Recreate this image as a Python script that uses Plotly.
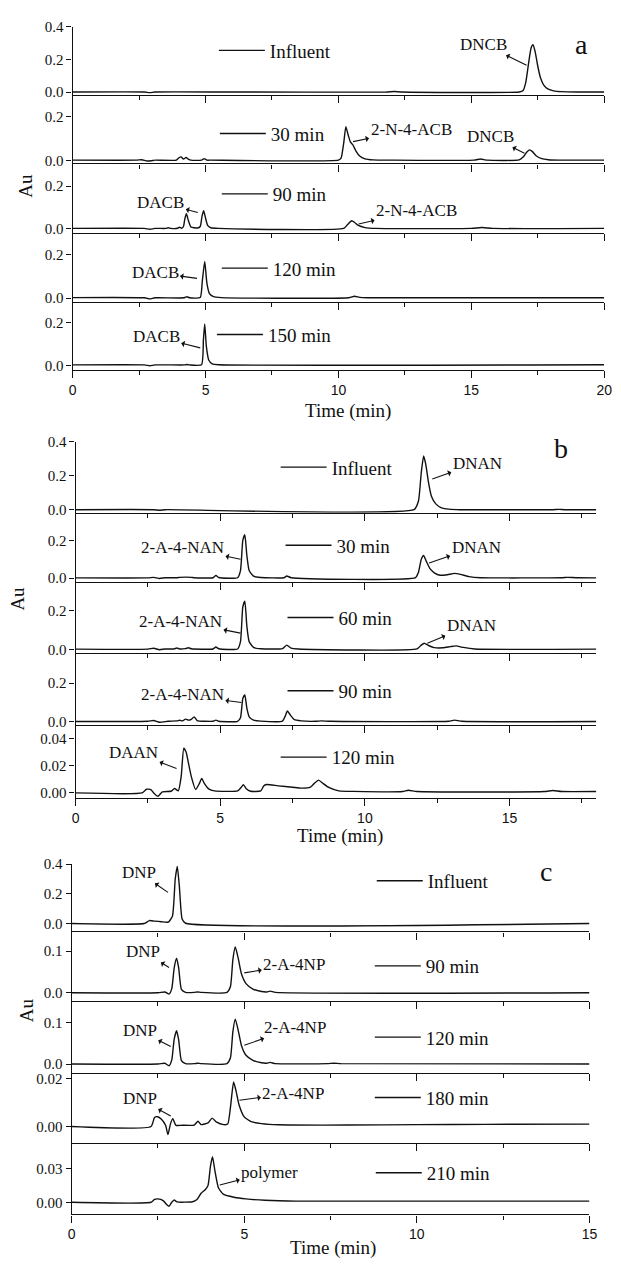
import plotly.graph_objects as go

# ---------------- data (time in min, absorbance in Au) ----------------
# Panel a
a_influent_t = [0, 2.7, 2.9, 3.1, 6, 11.8, 12.1, 12.4, 16.8, 16.95, 17.05, 17.15, 17.25, 17.32, 17.4, 17.5, 17.6, 17.72, 17.88, 18.1, 18.4, 19, 20]
a_influent_y = [0.001, 0.001, -0.003, 0.001, 0.001, 0.001, 0.004, 0.001, 0.001, 0.01, 0.06, 0.17, 0.27, 0.29, 0.25, 0.16, 0.09, 0.045, 0.02, 0.008, 0.003, 0.001, 0.001]
a_30_t = [0, 2.4, 2.6, 2.8, 2.95, 3.1, 3.9, 4.0, 4.08, 4.17, 4.27, 4.35, 4.45, 4.85, 4.95, 5.05, 5.2, 10.0, 10.1, 10.2, 10.28, 10.36, 10.45, 10.55, 10.65, 10.8, 11.0, 11.3, 12, 15.1, 15.35, 15.6, 16.8, 16.95, 17.1, 17.2, 17.3, 17.45, 17.65, 17.9, 18.3, 20]
a_30_y = [0.001, 0.001, 0.003, -0.003, -0.002, 0.001, 0.001, 0.012, 0.016, 0.006, 0.013, 0.006, 0.001, 0.001, 0.008, 0.001, 0.001, 0.001, 0.01, 0.08, 0.155, 0.12, 0.085, 0.07, 0.045, 0.02, 0.007, 0.002, 0.001, 0.001, 0.006, 0.001, 0.002, 0.015, 0.04, 0.048, 0.04, 0.02, 0.008, 0.003, 0.001, 0.001]
a_90_t = [0, 2.7, 2.9, 3.1, 3.5, 3.6, 3.7, 3.95, 4.02, 4.1, 4.17, 4.22, 4.28, 4.35, 4.45, 4.7, 4.8, 4.87, 4.93, 5.0, 5.08, 5.2, 5.5, 10.2, 10.35, 10.5, 10.6, 10.75, 11.0, 11.4, 15.0, 15.4, 15.8, 20]
a_90_y = [0.001, 0.001, -0.003, 0.001, 0.001, 0.004, 0.001, 0.002, 0.007, 0.002, 0.01, 0.045, 0.07, 0.04, 0.008, 0.003, 0.01, 0.06, 0.084, 0.05, 0.015, 0.004, 0.001, 0.001, 0.02, 0.037, 0.03, 0.015, 0.005, 0.001, 0.001, 0.005, 0.001, 0.001]
a_120_t = [0, 2.7, 2.9, 3.1, 4.2, 4.3, 4.4, 4.8, 4.88, 4.97, 5.05, 5.15, 5.3, 5.6, 10.4, 10.6, 10.8, 11.1, 20]
a_120_y = [0.002, 0.001, -0.004, 0.001, 0.001, 0.006, 0.001, 0.002, 0.08, 0.168, 0.07, 0.02, 0.006, 0.002, 0.001, 0.008, 0.003, 0.001, 0.001]
a_150_t = [0, 2.7, 2.9, 3.1, 4.2, 4.3, 4.4, 4.85, 4.92, 4.97, 5.03, 5.12, 5.25, 5.5, 20]
a_150_y = [0.002, 0.002, -0.002, 0.002, 0.002, 0.004, 0.002, 0.003, 0.12, 0.195, 0.09, 0.025, 0.007, 0.003, 0.003]

# Panel b
b_influent_t = [0, 2.7, 2.9, 3.1, 11.7, 11.85, 11.95, 12.03, 12.1, 12.2, 12.3, 12.45, 12.65, 12.9, 13.3, 16.5, 16.7, 16.9, 18]
b_influent_y = [0.001, 0.001, -0.002, 0.001, 0.001, 0.05, 0.22, 0.315, 0.27, 0.16, 0.08, 0.035, 0.012, 0.004, 0.001, 0.001, 0.003, 0.001, 0.001]
b_30_t = [0, 2.5, 2.7, 2.9, 3.1, 3.5, 3.6, 4.0, 4.1, 4.75, 4.85, 4.95, 5.6, 5.7, 5.78, 5.85, 5.92, 6.0, 6.15, 6.4, 7.2, 7.3, 7.45, 11.75, 11.85, 11.95, 12.03, 12.12, 12.25, 12.4, 12.6, 12.85, 13.1, 13.3, 13.6, 14.0, 16.8, 17.0, 17.3, 18]
b_30_y = [0.001, 0.001, 0.004, -0.002, 0.002, 0.002, 0.004, 0.004, 0.002, 0.002, 0.014, 0.003, 0.002, 0.04, 0.2, 0.23, 0.12, 0.04, 0.01, 0.003, 0.002, 0.011, 0.002, 0.002, 0.03, 0.1, 0.12, 0.09, 0.05, 0.028, 0.015, 0.018, 0.025, 0.02, 0.008, 0.002, 0.002, 0.004, 0.002, 0.001]
b_60_t = [0, 2.5, 2.7, 2.9, 3.1, 3.4, 3.5, 3.6, 3.8, 3.9, 4.0, 4.75, 4.85, 4.95, 5.6, 5.7, 5.78, 5.85, 5.92, 6.0, 6.15, 6.4, 7.15, 7.3, 7.45, 7.7, 11.8, 11.95, 12.05, 12.2, 12.4, 12.7, 12.95, 13.15, 13.4, 13.8, 18]
b_60_y = [0.001, 0.001, 0.006, -0.002, 0.002, 0.002, 0.007, 0.002, 0.004, 0.008, 0.003, 0.002, 0.012, 0.003, 0.002, 0.04, 0.22, 0.25, 0.12, 0.04, 0.01, 0.003, 0.004, 0.022, 0.006, 0.002, 0.002, 0.022, 0.032, 0.02, 0.009, 0.008, 0.014, 0.018, 0.01, 0.002, 0.001]
b_90_t = [0, 2.5, 2.7, 2.9, 3.2, 3.5, 3.6, 3.7, 3.8, 3.9, 4.0, 4.1, 4.2, 4.75, 4.85, 4.95, 5.6, 5.7, 5.78, 5.85, 5.92, 6.0, 6.15, 6.4, 7.15, 7.25, 7.32, 7.42, 7.55, 7.8, 8.3, 8.5, 8.8, 12.9, 13.1, 13.35, 18]
b_90_y = [0.001, 0.002, 0.006, -0.003, 0.002, 0.004, 0.007, 0.004, 0.013, 0.008, 0.012, 0.025, 0.006, 0.002, 0.008, 0.002, 0.002, 0.02, 0.12, 0.138, 0.07, 0.025, 0.008, 0.003, 0.003, 0.03, 0.055, 0.035, 0.012, 0.004, 0.002, 0.004, 0.002, 0.002, 0.008, 0.002, 0.001]
b_120_t = [0, 2.3, 2.45, 2.6, 2.7, 2.85, 3.0, 3.3, 3.42, 3.55, 3.65, 3.74, 3.82, 3.9, 4.0, 4.15, 4.28, 4.36, 4.45, 4.6, 4.8, 5.6, 5.72, 5.8, 5.9, 6.05, 6.4, 6.5, 6.6, 7.0, 7.5, 7.8, 8.1, 8.25, 8.4, 8.55, 8.75, 9.1, 9.6, 11.3, 11.5, 11.8, 16.2, 16.5, 16.8, 18]
b_120_y = [0.0, 0.0, 0.0027, 0.0025, 0.0, -0.0025, 0.0008, 0.0012, 0.0032, 0.0015, 0.012, 0.0328, 0.03, 0.022, 0.012, 0.0025, 0.007, 0.0106, 0.007, 0.003, 0.0015, 0.0015, 0.004, 0.006, 0.003, 0.0012, 0.0015, 0.005, 0.0062, 0.0052, 0.0042, 0.0035, 0.004, 0.007, 0.0094, 0.007, 0.004, 0.0015, 0.0011, 0.001, 0.002, 0.001, 0.001, 0.0018, 0.001, 0.001]

# Panel c
c_influent_t = [0, 2.1, 2.25, 2.4, 2.6, 2.8, 2.92, 3.0, 3.06, 3.12, 3.2, 3.3, 15]
c_influent_y = [0.0, 0.0, 0.02, 0.016, 0.012, 0.01, 0.05, 0.3, 0.385, 0.25, 0.03, 0.002, 0.0]
c_90_t = [0, 2.5, 2.7, 2.82, 2.9, 2.97, 3.04, 3.1, 3.18, 3.3, 3.55, 3.65, 3.75, 4.5, 4.6, 4.67, 4.74, 4.82, 4.92, 5.05, 5.25, 5.5, 5.65, 5.75, 5.9, 15]
c_90_y = [0.0, 0.0, 0.002, -0.003, 0.01, 0.06, 0.083, 0.06, 0.008, 0.001, 0.001, 0.002, 0.001, 0.001, 0.015, 0.08, 0.11, 0.085, 0.045, 0.022, 0.009, 0.003, 0.002, 0.004, 0.001, 0.0]
c_120_t = [0, 2.5, 2.7, 2.82, 2.9, 2.97, 3.04, 3.1, 3.18, 3.3, 3.55, 3.65, 3.75, 4.5, 4.6, 4.67, 4.74, 4.82, 4.92, 5.05, 5.25, 5.5, 5.65, 5.75, 5.9, 7.4, 7.6, 7.8, 15]
c_120_y = [0.0, 0.0, 0.002, -0.004, 0.01, 0.06, 0.08, 0.058, 0.008, 0.001, 0.001, 0.002, 0.001, 0.001, 0.015, 0.078, 0.108, 0.083, 0.044, 0.021, 0.009, 0.003, 0.002, 0.004, 0.001, 0.001, 0.002, 0.001, 0.0]
c_180_t = [0, 2.3, 2.4, 2.49, 2.6, 2.72, 2.79, 2.86, 2.93, 3.02, 3.2, 3.55, 3.66, 3.75, 3.95, 4.07, 4.2, 4.4, 4.52, 4.6, 4.69, 4.76, 4.85, 5.0, 5.2, 5.5, 6.0, 8, 10, 12, 15]
c_180_y = [0.0, 0.0, 0.0038, 0.0041, 0.003, 0.0005, -0.0034, 0.001, 0.0033, 0.0005, 0.0005, 0.0006, 0.0022, 0.0008, 0.0015, 0.0035, 0.0018, 0.0008, 0.001, 0.008, 0.0186, 0.015, 0.009, 0.004, 0.002, 0.0012, 0.0007, 0.0006, 0.0008, 0.0009, 0.001]
c_210_t = [0, 2.3, 2.4, 2.5, 2.65, 2.75, 2.82, 2.9, 2.97, 3.05, 3.5, 3.63, 3.75, 3.86, 3.95, 4.02, 4.08, 4.15, 4.25, 4.4, 4.7, 5.05, 5.6, 6.5, 15]
c_210_y = [0.0, 0.0, 0.0025, 0.003, 0.0015, -0.002, -0.0035, 0.0, 0.002, 0.0003, 0.0005, 0.0025, 0.008, 0.011, 0.015, 0.032, 0.0406, 0.028, 0.013, 0.007, 0.0045, 0.003, 0.0018, 0.001, 0.001]

sample_labels_a = ["Influent", "30 min", "90 min", "120 min", "150 min"]
sample_labels_b = ["Influent", "30 min", "60 min", "90 min", "120 min"]
sample_labels_c = ["Influent", "90 min", "120 min", "180 min", "210 min"]
panel_letters = ["a", "b", "c"]
x_ticks_a = [0, 5, 10, 15, 20]
x_ticks_b = [0, 5, 10, 15]
x_ticks_c = [0, 5, 10, 15]

# ---------------- layout configuration (pixels of the 621x1266 page) ----------------
W, H = 621, 1266
SERIF = "Liberation Serif, Times New Roman, serif"
SANS = "Liberation Sans, Arial, sans-serif"
ITEM_W = 46

panels = [
    dict(letter=panel_letters[0], xrange=[0, 20], xpx=(70, 612), xticks=x_ticks_a,
         labels=sample_labels_a,
         data=[(a_influent_t, a_influent_y), (a_30_t, a_30_y), (a_90_t, a_90_y), (a_120_t, a_120_y), (a_150_t, a_150_y)],
         ypx=[(19, 88), (88, 157), (157, 227), (227, 297), (297, 366)],
         yr=[(-0.018, 0.4), (-0.014, 0.3), (-0.019, 0.307), (-0.018, 0.3), (-0.023, 0.298)],
         yt=[[0, 0.2, 0.4], [0, 0.2], [0, 0.2], [0, 0.2], [0, 0.2]], yfmt=[".1f"] * 5,
         leg=[(270, 43), (271, 127), (273, 188), (273, 263), (268, 330)],
         letter_pos=(589, 37), au_pos=(22, 180), time_pos=(351, 407)),
    dict(letter=panel_letters[1], xrange=[0, 18], xpx=(73, 604), xticks=x_ticks_b,
         labels=sample_labels_b,
         data=[(b_influent_t, b_influent_y), (b_30_t, b_30_y), (b_60_t, b_60_y), (b_90_t, b_90_y), (b_120_t, b_120_y)],
         ypx=[(438, 510), (510, 580), (580, 652), (652, 724), (724, 798)],
         yr=[(-0.017, 0.4), (-0.021, 0.347), (-0.0205, 0.349), (-0.015, 0.354), (-0.0036, 0.0502)],
         yt=[[0, 0.2, 0.4], [0, 0.2], [0, 0.2], [0, 0.2], [0, 0.02, 0.04]], yfmt=[".1f"] * 4 + [".2f"],
         leg=[(333, 464), (338, 543), (340, 616), (340, 690), (333, 757)],
         letter_pos=(568, 445), au_pos=(14, 597), time_pos=(343, 837)),
    dict(letter=panel_letters[2], xrange=[0, 15], xpx=(69, 597), xticks=x_ticks_c,
         labels=sample_labels_c,
         data=[(c_influent_t, c_influent_y), (c_90_t, c_90_y), (c_120_t, c_120_y), (c_180_t, c_180_y), (c_210_t, c_210_y)],
         ypx=[(865, 933), (933, 1003), (1003, 1076), (1076, 1147), (1147, 1219)],
         yr=[(-0.053, 0.4), (-0.019, 0.1476), (-0.0214, 0.1524), (-0.007, 0.0224), (-0.0109, 0.0527)],
         yt=[[0, 0.2, 0.4], [0, 0.1], [0, 0.1], [0, 0.02], [0, 0.03]], yfmt=[".1f"] * 3 + [".2f"] * 2,
         leg=[(431, 882), (429, 968), (429, 1040), (429, 1101), (430, 1177)],
         letter_pos=(553, 872), au_pos=(23, 1013), time_pos=(335, 1253)),
]

# peak labels: (panel, subplot, text, x, y, ax, ay)
peak_labels = [
    (0, 0, "DNCB", 17.08, 0.165, -43, -21),
    (0, 1, "2-N-4-ACB", 10.55, 0.086, 58, -12),
    (0, 1, "DNCB", 17.0, 0.033, -34, -17),
    (0, 2, "DACB", 4.71, 0.076, -37, -10),
    (0, 2, "2-N-4-ACB", 10.76, 0.022, 58, -13),
    (0, 3, "DACB", 4.68, 0.09, -42, -6),
    (0, 4, "DACB", 4.8, 0.082, -44, -11),
    (1, 0, "DNAN", 12.33, 0.18, 45, -16),
    (1, 1, "2-A-4-NAN", 5.7, 0.10, -58, -12),
    (1, 1, "DNAN", 12.22, 0.08, 47, -16),
    (1, 2, "2-A-4-NAN", 5.7, 0.084, -60, -12),
    (1, 2, "DNAN", 12.16, 0.032, 44, -18),
    (1, 3, "2-A-4-NAN", 5.73, 0.099, -59, -8),
    (1, 4, "DAAN", 3.49, 0.018, -43, -16),
    (2, 0, "DNP", 2.79, 0.21, -29, -20),
    (2, 1, "DNP", 2.82, 0.061, -26, -16),
    (2, 1, "2-A-4NP", 5.0, 0.048, 50, -8),
    (2, 2, "DNP", 2.87, 0.042, -31, -16),
    (2, 2, "2-A-4NP", 5.0, 0.045, 51, -18),
    (2, 3, "DNP", 2.87, 0.0044, -31, -17),
    (2, 3, "2-A-4NP", 4.86, 0.011, 54, -7),
    (2, 4, "polymer", 4.29, 0.0154, 50, -13),
]

fig = go.Figure()
layout = dict(width=W, height=H, margin=dict(l=0, r=0, t=0, b=0),
              paper_bgcolor="white", plot_bgcolor="white", annotations=[])

def py(p):
    return 1 - p / H

def paper_text(text, pos, size, angle=0):
    return dict(text=text, x=pos[0] / W, y=py(pos[1]), xref="paper", yref="paper",
                xanchor="center", yanchor="middle", textangle=angle, showarrow=False,
                font=dict(family=SERIF, size=size, color="#111111"))

n = 0
axis_index = {}
for pi, P in enumerate(panels):
    for si in range(5):
        n += 1
        axis_index[(pi, si)] = n
        t, y = P["data"][si]
        legname = "legend" if n == 1 else f"legend{n}"
        fig.add_trace(go.Scatter(
            x=t, y=y, mode="lines", name=P["labels"][si],
            line=dict(color="#111111", width=1.4, shape="spline", smoothing=0.5),
            xaxis=f"x{n}", yaxis=f"y{n}", legend=legname, showlegend=True,
        ))
        bottom = si == 4
        xa = dict(domain=[P["xpx"][0] / W, P["xpx"][1] / W], range=P["xrange"], anchor=f"y{n}",
                  showline=True, linecolor="#111111", linewidth=1.3, showgrid=False, zeroline=False,
                  ticks="outside", ticklen=7, tickwidth=1.3, tickcolor="#111111",
                  tickvals=P["xticks"], showticklabels=bottom,
                  tickfont=dict(family=SANS, size=14, color="#111111"),
                  minor=dict(dtick=2.5, tick0=0, ticks="outside", ticklen=4, tickwidth=1.2, tickcolor="#111111"))
        ya = dict(domain=[py(P["ypx"][si][1]), py(P["ypx"][si][0])], range=list(P["yr"][si]), anchor=f"x{n}",
                  showline=True, linecolor="#111111", linewidth=1.3, showgrid=False, zeroline=False,
                  ticks="outside", ticklen=5, tickwidth=1.3, tickcolor="#111111",
                  tickvals=P["yt"][si], tickformat=P["yfmt"][si],
                  tickfont=dict(family=SERIF, size=15, color="#111111"))
        layout[f"xaxis{n}"] = xa
        layout[f"yaxis{n}"] = ya
        text_x, ly = P["leg"][si]
        # legend text starts itemwidth + 10 px after the legend's left edge
        layout[legname] = dict(x=(text_x - ITEM_W - 10) / W, y=py(ly), xanchor="left", yanchor="middle",
                               bgcolor="rgba(0,0,0,0)", borderwidth=0, itemwidth=ITEM_W,
                               font=dict(family=SERIF, size=19, color="#111111"),
                               itemclick=False, itemdoubleclick=False)
    layout["annotations"].append(paper_text(P["letter"], P["letter_pos"], 28))
    layout["annotations"].append(paper_text("Au", P["au_pos"], 19, angle=-90))
    layout["annotations"].append(paper_text("Time (min)", P["time_pos"], 19))

for (pi, si, text, x, y, ax, ay) in peak_labels:
    k = axis_index[(pi, si)]
    layout["annotations"].append(dict(
        text=text, x=x, y=y, xref=f"x{k}", yref=f"y{k}", ax=ax, ay=ay,
        showarrow=True, arrowhead=2, arrowsize=2, arrowwidth=1.1, arrowcolor="#111111",
        arrowside="start", standoff=0, startstandoff=0,
        font=dict(family=SERIF, size=17, color="#111111")))

fig.update_layout(**layout)
fig.write_html("out.html")
